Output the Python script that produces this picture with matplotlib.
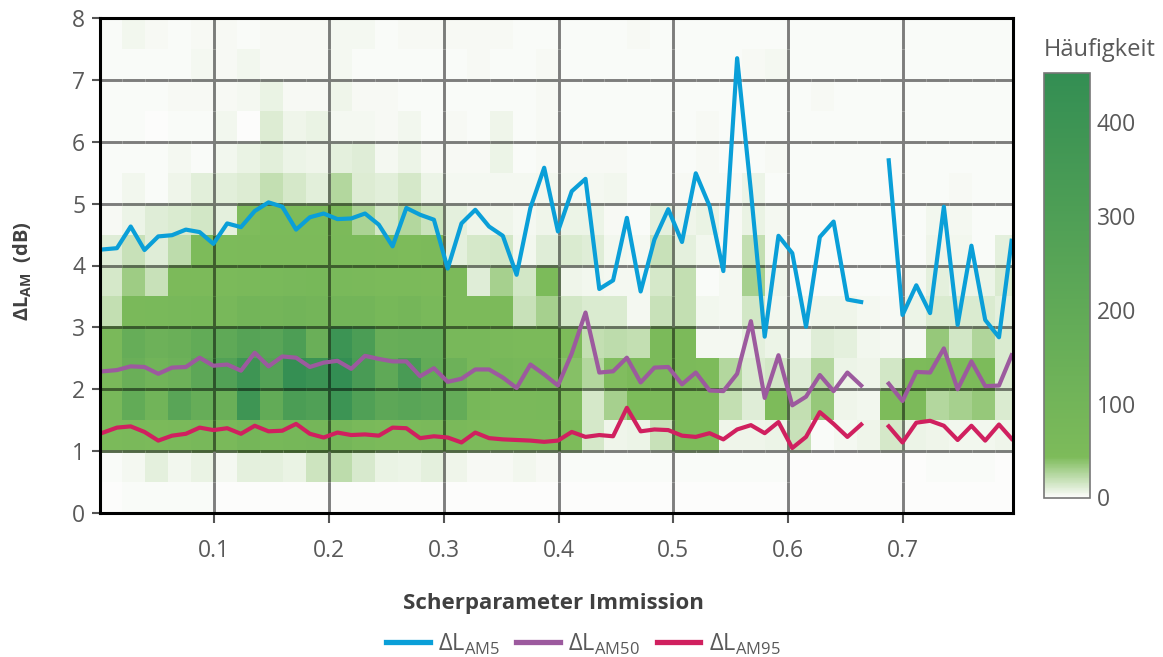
import matplotlib

matplotlib.use("Agg")
import matplotlib.pyplot as plt
import numpy as np
from matplotlib.collections import LineCollection
from matplotlib.colors import LinearSegmentedColormap, Normalize

plt.rcParams["font.family"] = ["Open Sans", "DejaVu Sans"]
plt.rcParams["mathtext.fontset"] = "custom"
plt.rcParams["mathtext.rm"] = "Open Sans"
plt.rcParams["mathtext.bf"] = "Open Sans:bold"

nan = float("nan")

# Scherparameter of the line points
scher = [
    0.0035, 0.0155, 0.0275, 0.0395, 0.0515, 0.0635, 0.0755, 0.0875, 0.0995, 0.1115,
    0.1235, 0.1355, 0.1475, 0.1595, 0.1715, 0.1835, 0.1955, 0.2075, 0.2195, 0.2315,
    0.2435, 0.2555, 0.2675, 0.2795, 0.2915, 0.3035, 0.3155, 0.3275, 0.3395, 0.3515,
    0.3635, 0.3755, 0.3875, 0.3995, 0.4115, 0.4235, 0.4355, 0.4475, 0.4595, 0.4715,
    0.4835, 0.4955, 0.5075, 0.5195, 0.5315, 0.5435, 0.5555, 0.5675, 0.5795, 0.5915,
    0.6035, 0.6155, 0.6275, 0.6395, 0.6515, 0.6635, 0.6755, 0.6875, 0.6995, 0.7115,
    0.7235, 0.7355, 0.7475, 0.7595, 0.7715, 0.7835, 0.7945,
]
am5 = [
    4.26, 4.28, 4.63, 4.25, 4.47, 4.49, 4.58, 4.54, 4.35, 4.68,
    4.62, 4.88, 5.02, 4.95, 4.58, 4.78, 4.84, 4.75, 4.76, 4.84,
    4.66, 4.31, 4.93, 4.82, 4.74, 3.95, 4.68, 4.90, 4.63, 4.48,
    3.85, 4.93, 5.58, 4.55, 5.20, 5.40, 3.62, 3.76, 4.77, 3.58,
    4.42, 4.91, 4.38, 5.49, 4.96, 3.91, 7.35, 5.20, 2.85, 4.48,
    4.20, 3.01, 4.46, 4.71, 3.45, 3.41, nan, 5.70, 3.20, 3.68,
    3.23, 4.95, 3.04, 4.32, 3.12, 2.84, 4.40,
]
am50 = [
    2.29, 2.31, 2.37, 2.36, 2.25, 2.35, 2.36, 2.51, 2.38, 2.40,
    2.30, 2.59, 2.37, 2.53, 2.51, 2.36, 2.43, 2.46, 2.33, 2.54,
    2.49, 2.45, 2.45, 2.21, 2.34, 2.12, 2.17, 2.32, 2.32, 2.19,
    2.02, 2.40, 2.24, 2.06, 2.58, 3.24, 2.27, 2.29, 2.51, 2.11,
    2.35, 2.36, 2.08, 2.27, 1.98, 1.97, 2.25, 3.10, 1.86, 2.55,
    1.74, 1.88, 2.23, 1.97, 2.27, 2.06, nan, 2.09, 1.81, 2.28,
    2.27, 2.66, 2.00, 2.45, 2.05, 2.06, 2.55,
]
am95 = [
    1.30, 1.38, 1.40, 1.31, 1.17, 1.25, 1.28, 1.38, 1.34, 1.37,
    1.28, 1.41, 1.32, 1.33, 1.44, 1.28, 1.22, 1.30, 1.26, 1.27,
    1.25, 1.38, 1.37, 1.21, 1.24, 1.22, 1.14, 1.30, 1.21, 1.19,
    1.18, 1.17, 1.15, 1.17, 1.31, 1.23, 1.26, 1.24, 1.70, 1.32,
    1.35, 1.34, 1.25, 1.23, 1.29, 1.19, 1.35, 1.42, 1.29, 1.47,
    1.05, 1.23, 1.63, 1.44, 1.23, 1.43, nan, 1.40, 1.14, 1.46,
    1.49, 1.41, 1.18, 1.41, 1.17, 1.43, 1.20,
]

# Histogram bins: 40 columns of 0.02, 16 rows of 0.5 dB, listed from the bottom row up
x_edges = [i / 50 for i in range(41)]
y_edges = [i / 2 for i in range(17)]
counts = [
    [0, 1, 1, 1, 1, 0, 0, 0, 0, 0, 0, 0, 0, 0, 0, 0, 0, 0, 0, 0,
     0, 0, 0, 0, 0, 0, 0, 0, 0, 0, 0, 0, 0, 0, 0, 0, 0, 0, 0, 0],
    [1, 3, 8, 4, 7, 3, 8, 8, 7, 16, 22, 13, 7, 6, 8, 5, 2, 2, 4, 2,
     1, 1, 1, 1, 1, 1, 1, 1, 1, 1, 0, 0, 0, 0, 0, 0, 1, 1, 1, 0],
    [55, 60, 55, 60, 70, 60, 85, 75, 80, 85, 90, 65, 55, 55, 60, 60, 50, 50, 50, 48,
     44, 14, 5, 6, 18, 45, 45, 5, 5, 6, 18, 1, 3, 5, 14, 6, 5, 4, 4, 5],
    [70, 190, 110, 240, 170, 150, 390, 190, 320, 290, 400, 290, 220, 240, 220, 180, 75, 60, 60, 65,
     42, 14, 30, 46, 48, 50, 48, 20, 10, 44, 20, 35, 5, 4, 45, 48, 25, 30, 35, 12],
    [60, 150, 110, 130, 220, 280, 390, 270, 440, 410, 450, 330, 210, 330, 190, 130, 70, 80, 70, 70,
     40, 25, 42, 48, 52, 50, 45, 25, 12, 15, 10, 25, 6, 5, 15, 45, 48, 45, 47, 12],
    [60, 170, 130, 150, 190, 210, 260, 240, 310, 150, 400, 320, 160, 170, 170, 70, 70, 60, 55, 55,
     45, 20, 22, 20, 55, 50, 3, 3, 8, 6, 4, 10, 8, 4, 3, 3, 35, 15, 26, 12],
    [20, 60, 65, 70, 75, 70, 100, 95, 105, 95, 100, 100, 75, 85, 65, 50, 48, 48, 18, 30,
     15, 12, 12, 3, 18, 20, 4, 3, 15, 4, 4, 5, 5, 3, 2, 6, 12, 12, 12, 8],
    [14, 32, 18, 50, 50, 55, 60, 65, 70, 75, 65, 60, 55, 55, 50, 50, 10, 30, 15, 46,
     5, 4, 3, 3, 14, 20, 1, 3, 30, 5, 1, 1, 1, 1, 1, 3, 8, 6, 6, 12],
    [10, 18, 10, 22, 45, 47, 50, 50, 50, 50, 55, 52, 50, 45, 48, 8, 14, 15, 4, 10,
     12, 10, 4, 3, 18, 8, 4, 2, 20, 3, 1, 1, 1, 1, 1, 1, 5, 4, 1, 8],
    [2, 6, 10, 12, 15, 8, 43, 46, 46, 46, 50, 28, 15, 25, 17, 8, 5, 5, 3, 5,
     6, 6, 2, 1, 8, 5, 7, 2, 7, 3, 1, 1, 1, 1, 1, 1, 4, 3, 1, 1],
    [1, 4, 1, 5, 9, 9, 11, 20, 14, 9, 25, 11, 9, 14, 6, 3, 3, 3, 3, 4,
     3, 3, 4, 1, 1, 2, 2, 2, 6, 1, 1, 1, 1, 1, 1, 1, 1, 2, 1, 1],
    [1, 1, 1, 3, 1, 4, 7, 9, 6, 5, 8, 10, 3, 6, 2, 2, 2, 6, 1, 2,
     2, 2, 2, 1, 1, 1, 2, 1, 1, 2, 1, 1, 1, 1, 1, 1, 1, 1, 1, 1],
    [1, 1, 0, 1, 1, 4, 0, 11, 5, 7, 3, 3, 2, 4, 1, 2, 1, 5, 1, 2,
     1, 1, 1, 1, 1, 1, 2, 1, 1, 1, 1, 1, 1, 1, 1, 1, 1, 1, 1, 1],
    [1, 1, 1, 2, 2, 2, 3, 7, 2, 2, 5, 2, 2, 1, 1, 1, 1, 1, 1, 2,
     1, 1, 1, 1, 1, 1, 1, 1, 1, 1, 1, 2, 1, 1, 1, 1, 1, 1, 1, 1],
    [1, 1, 1, 1, 3, 2, 4, 2, 2, 2, 3, 1, 1, 1, 1, 1, 2, 1, 1, 2,
     1, 1, 1, 1, 1, 1, 1, 1, 2, 3, 1, 1, 1, 1, 1, 1, 1, 1, 1, 1],
    [1, 4, 2, 1, 2, 2, 1, 2, 2, 2, 3, 3, 1, 2, 2, 2, 2, 2, 1, 1,
     1, 1, 1, 2, 1, 1, 1, 1, 1, 1, 1, 1, 1, 1, 1, 1, 1, 1, 1, 1],
]

text_color = "#595959"
count_max = 452
cmap = LinearSegmentedColormap.from_list(
    "haeufigkeit",
    [(0, "#fcfcfb"), (43 / count_max, "#7dbb5a"), (1, "#338e53")],
    N=512,
)
norm = Normalize(0, count_max)

fig = plt.figure(figsize=(11.63, 6.57), dpi=100)
ax = fig.add_axes([100.5 / 1163, 1 - 513 / 657, 912.5 / 1163, 495 / 657])

grid_data = np.array(counts, dtype=float)
mesh = ax.pcolormesh(x_edges, y_edges, grid_data, cmap=cmap, norm=norm, zorder=1)

# Grid lines darken whatever cell they cross, so each one is split up per cell
segments = []
seg_colors = []
for k in range(1, 8):
    for j in range(40):
        mean_count = (grid_data[2 * k - 1, j] + grid_data[2 * k, j]) / 2
        segments.append([(x_edges[j], k), (x_edges[j + 1], k)])
        seg_colors.append(np.array(cmap(norm(mean_count))) * [0.5, 0.5, 0.5, 1])
for k in range(1, 8):
    for i in range(16):
        mean_count = (grid_data[i, 5 * k - 1] + grid_data[i, 5 * k]) / 2
        segments.append([(k / 10, y_edges[i]), (k / 10, y_edges[i + 1])])
        seg_colors.append(np.array(cmap(norm(mean_count))) * [0.5, 0.5, 0.5, 1])
ax.add_collection(LineCollection(segments, colors=seg_colors, linewidths=2.1, zorder=2))

ax.plot(scher, am5, color="#0a9fd8", lw=3, label=r"$\Delta$L$_{\mathrm{AM5}}$", zorder=3)
ax.plot(scher, am50, color="#9c5a9e", lw=3, label=r"$\Delta$L$_{\mathrm{AM50}}$", zorder=3)
ax.plot(scher, am95, color="#d0205f", lw=3, label=r"$\Delta$L$_{\mathrm{AM95}}$", zorder=3)

ax.set_xlim(0.0012, 0.7957)
ax.set_ylim(0, 8)
ax.set_xticks([0.1, 0.2, 0.3, 0.4, 0.5, 0.6, 0.7])
ax.set_yticks(range(9))
ax.tick_params(length=6, width=1.5, color="#555555", labelcolor=text_color, labelsize=16.5, pad=5)
ax.tick_params(axis="x", length=7, pad=12)
for spine in ax.spines.values():
    spine.set_linewidth(2.2)
    spine.set_color("black")
    spine.set_zorder(4)

fig.text(553 / 1163, 1 - 603 / 657, "Scherparameter Immission", ha="center", va="center",
         fontsize=16, fontweight="bold", color="#404040")
fig.text(23 / 1163, 1 - 271 / 657, r"$\mathbf{\Delta L_{AM}}$  (dB)", ha="center", va="center",
         rotation=90, fontsize=14.5, fontweight="bold", color="#404040")

handles, labels = ax.get_legend_handles_labels()
legend = fig.legend(handles, labels, ncol=3, frameon=False, loc="center",
                    bbox_to_anchor=(583 / 1163, 1 - 644 / 657), fontsize=17,
                    handlelength=1.85, handletextpad=0.35, columnspacing=0.7,
                    labelcolor=text_color)
for line in legend.get_lines():
    line.set_linewidth(3.8)

cax = fig.add_axes([1044 / 1163, 1 - 497.5 / 657, 46 / 1163, 424.5 / 657])
cbar = fig.colorbar(mesh, cax=cax, ticks=[0, 100, 200, 300, 400])
cbar.ax.tick_params(length=0, labelsize=16.5, labelcolor=text_color, pad=5)
cbar.outline.set_edgecolor("#777777")
cbar.outline.set_linewidth(1.2)
fig.text(1044 / 1163, 1 - 50 / 657, "Häufigkeit", ha="left", va="center", fontsize=17, color=text_color)

fig.savefig("out.png", dpi=100)
